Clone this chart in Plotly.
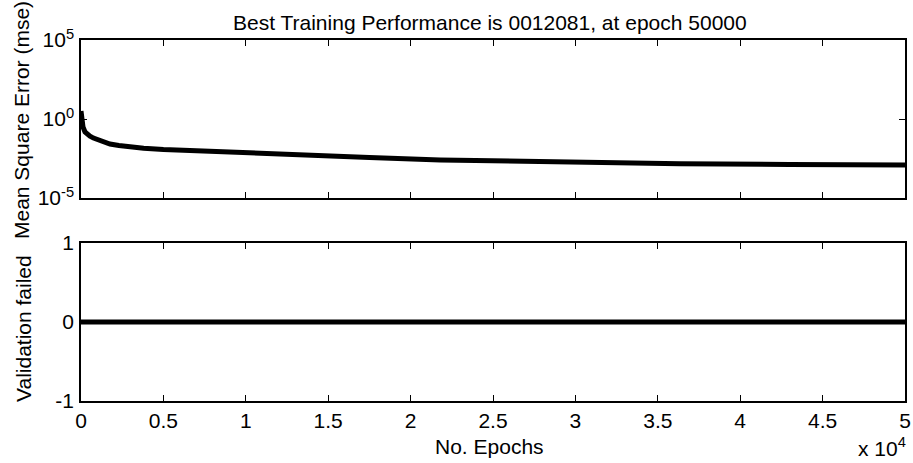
import plotly.graph_objects as go

# ---- data ----
epochs = [0, 30, 60, 120, 243, 400, 546, 760, 1030, 1400, 1760, 2300, 2850, 3800, 5000, 7100, 10000, 14200, 17500, 21800, 25300, 28800, 32500, 36350, 43000, 50000]
train_perf = [3.2, 1.3, 0.65, 0.32, 0.15, 0.105, 0.083, 0.062, 0.047, 0.034, 0.026, 0.021, 0.017, 0.0140, 0.0117, 0.0094, 0.0072, 0.0050, 0.0037, 0.00254, 0.0022, 0.0019, 0.00167, 0.00148, 0.00134, 0.0012081]
val_epochs = [0, 50000]
val_fail = [0, 0]

x_tickvals = [0, 5000, 10000, 15000, 20000, 25000, 30000, 35000, 40000, 45000, 50000]
x_ticktext = ["0", "0.5", "1", "1.5", "2", "2.5", "3", "3.5", "4", "4.5", "5"]
y1_tickvals = [1e-5, 1, 1e5]
y1_ticktext = ["10<sup>-5</sup>", "10<sup>0</sup>", "10<sup>5</sup>"]
y2_tickvals = [-1, 0, 1]
y2_ticktext = ["-1", "0", "1"]

title_text = "Best Training Performance is 0012081, at epoch 50000"

W, H = 913, 463
FONT = "Liberation Sans, Arial, sans-serif"
FS = 21

def px_x(p):
    return p / W

def px_y(p):
    return 1 - p / H

fig = go.Figure()
fig.add_trace(go.Scatter(x=epochs, y=train_perf, mode="lines",
                         line=dict(color="black", width=5),
                         xaxis="x", yaxis="y", showlegend=False))
fig.add_trace(go.Scatter(x=val_epochs, y=val_fail, mode="lines",
                         line=dict(color="black", width=5), xaxis="x2", yaxis="y2",
                         showlegend=False))

axis_common = dict(showline=True, linecolor="black", linewidth=1.5, mirror="allticks",
                   ticks="inside", ticklen=6, tickwidth=1, tickcolor="black",
                   showgrid=False, zeroline=False, automargin=False,
                   tickfont=dict(family=FONT, size=FS, color="black"))

xdom = [px_x(81), px_x(905)]
fig.update_layout(
    template="none",
    width=W, height=H, autosize=False,
    margin=dict(l=0, r=0, t=0, b=0, pad=0),
    paper_bgcolor="white", plot_bgcolor="white",
    font=dict(family=FONT, size=FS, color="black"),
    xaxis=dict(domain=xdom, range=[0, 50000], anchor="y",
               tickvals=x_tickvals, ticktext=x_ticktext, showticklabels=False, **axis_common),
    yaxis=dict(domain=[px_y(198), px_y(40)], type="log", range=[-5, 5], anchor="x",
               tickvals=y1_tickvals, ticktext=y1_ticktext, ticklabelstandoff=1, **axis_common),
    xaxis2=dict(domain=xdom, range=[0, 50000], anchor="y2",
                tickvals=x_tickvals, ticktext=x_ticktext, **axis_common),
    yaxis2=dict(domain=[px_y(401), px_y(243)], range=[-1, 1], anchor="x2",
                tickvals=y2_tickvals, ticktext=y2_ticktext, ticklabelstandoff=1, **axis_common),
)

annots = [
    dict(text=title_text, x=px_x(490), y=px_y(23), xanchor="center", yanchor="middle"),
    dict(text="No. Epochs", x=px_x(489), y=px_y(446), xanchor="center", yanchor="middle"),
    dict(text="x 10<sup>4</sup>", x=px_x(908), y=px_y(447), xanchor="right", yanchor="middle"),
    dict(text="Mean Square Error (mse)", x=px_x(22), y=px_y(120), xanchor="center",
         yanchor="middle", textangle=-90),
    dict(text="Validation failed", x=px_x(23), y=px_y(329), xanchor="center",
         yanchor="middle", textangle=-90),
]
for a in annots:
    fig.add_annotation(xref="paper", yref="paper", showarrow=False,
                       font=dict(family=FONT, size=FS, color="black"), **a)

fig.write_html("out.html", config={"displayModeBar": False},
               post_script="document.body.style.margin='0';")
